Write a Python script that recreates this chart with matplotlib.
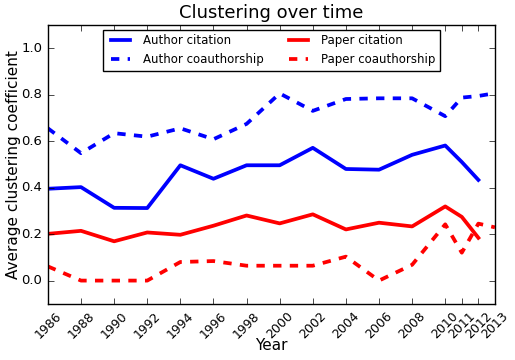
import matplotlib
matplotlib.use('Agg')
import matplotlib.pyplot as plt

plt.style.use('classic')

years = [1986, 1988, 1990, 1992, 1994, 1996, 1998, 2000, 2002, 2004, 2006, 2008, 2010, 2011, 2012, 2013]
tickLabels = [str(y) for y in years]

authorCitationYears = years[:-1]
authorCitation = [0.395, 0.402, 0.313, 0.312, 0.496, 0.438, 0.496, 0.496, 0.571, 0.480, 0.477, 0.541, 0.581, 0.510, 0.433]

authorCoauthorship = [0.655, 0.548, 0.634, 0.619, 0.655, 0.608, 0.674, 0.805, 0.730, 0.781, 0.784, 0.784, 0.707, 0.787, 0.794, 0.806]

paperCitationYears = years[:-1]
paperCitation = [0.201, 0.214, 0.169, 0.207, 0.197, 0.236, 0.280, 0.246, 0.285, 0.220, 0.249, 0.233, 0.319, 0.274, 0.184]

paperCoauthorship = [0.061, 0.0, 0.0, 0.0, 0.080, 0.084, 0.064, 0.064, 0.064, 0.103, 0.0, 0.068, 0.242, 0.120, 0.245, 0.229]

fig = plt.figure(figsize=(5.15, 3.6), dpi=100, facecolor='white')
ax = fig.add_axes([0.093, 0.156, 0.868, 0.775])

ax.plot(authorCitationYears, authorCitation, color='b', linestyle='-', linewidth=2.7, label='Author citation')
ax.plot(years, authorCoauthorship, color='b', linestyle='--', linewidth=2.7, label='Author coauthorship')
ax.plot(paperCitationYears, paperCitation, color='r', linestyle='-', linewidth=2.7, label='Paper citation')
ax.plot(years, paperCoauthorship, color='r', linestyle='--', linewidth=2.7, label='Paper coauthorship')

ax.set_xlim(1986, 2013)
ax.set_ylim(-0.1, 1.1)
ax.set_yticks([0.0, 0.2, 0.4, 0.6, 0.8, 1.0])
ax.set_xticks(years)
ax.set_xticklabels(tickLabels, rotation=45, fontsize=9)
ax.tick_params(axis='y', labelsize=9.5)

ax.set_title('Clustering over time', fontsize=13)
ax.set_xlabel('Year', fontsize=11, labelpad=-2)
ax.set_ylabel('Average clustering coefficient', fontsize=11, labelpad=0)

ax.legend(loc='upper center', ncol=2, fontsize=8.5, handlelength=2.2,
          columnspacing=1.8, borderaxespad=0.4)

fig.savefig('out.png', dpi=100, facecolor='white')
